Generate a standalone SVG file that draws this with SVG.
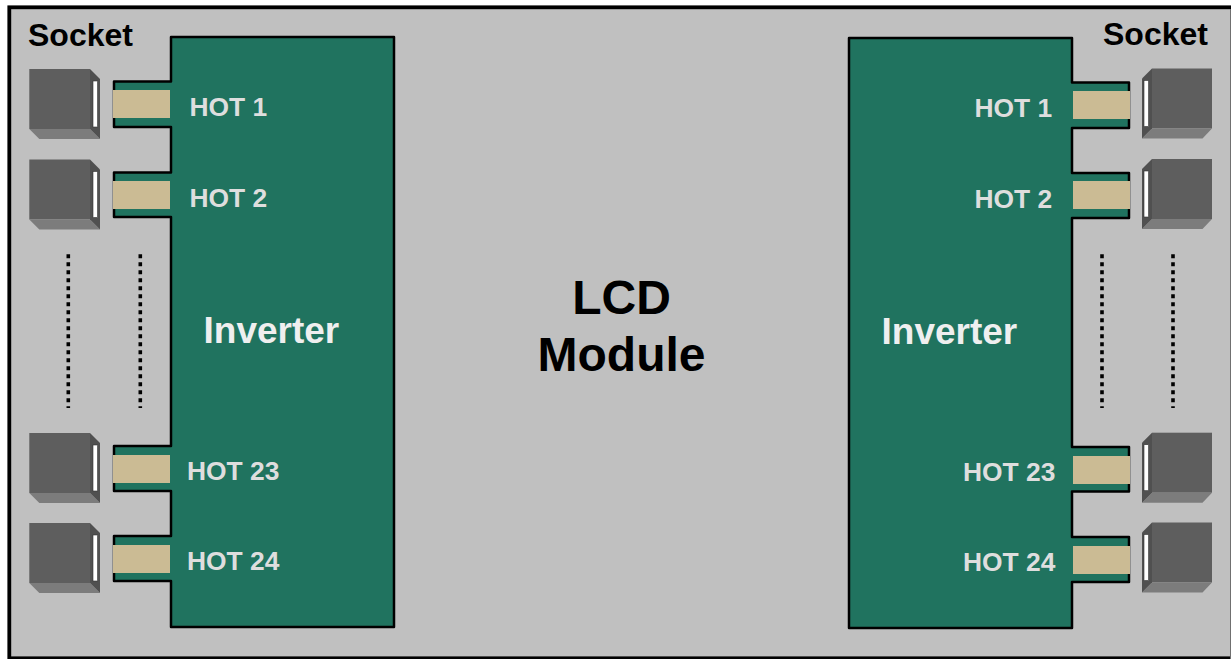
<svg xmlns="http://www.w3.org/2000/svg" width="1231" height="659" viewBox="0 0 1231 659">
<defs>
<style>
.inv{fill:#20735f;stroke:#000;stroke-width:2.5;stroke-linejoin:round}
.tan{fill:#cbbb94}
.front{fill:#5e5e5e}
.bot{fill:#7c7c7c}
.side{fill:#505050}
.slot{fill:#fff;stroke:#333;stroke-width:.6}
.dots{stroke:#000;stroke-width:3.600;stroke-dasharray:4 4;fill:none}
text{font-family:"Liberation Sans",Arial,sans-serif;font-weight:700}
.hot{font-size:26.400px;fill:#dedede}
.sock{font-size:32px;fill:#000}
.invt{font-size:37px;fill:#efefef}
.lcd{font-size:48px;fill:#000;text-anchor:middle}
</style>
<g id="sockL"><rect class="front" x="29.3" y="0" width="60.7" height="60"/><polygon class="bot" points="29.3,60 90,60 100,70 39.3,70"/><polygon class="side" points="90,0 100,10 100,70 90,60"/><rect class="slot" x="93" y="12" width="4.6" height="46"/></g>
<g id="sockR"><rect class="front" x="1152" y="0" width="60" height="60"/><polygon class="bot" points="1152,60 1212,60 1202.500,70 1142,70"/><polygon class="side" points="1152,0 1142,10 1142,70 1152,60"/><rect class="slot" x="1144" y="12" width="4.600" height="46"/></g>
</defs>
<rect width="1231" height="659" fill="#fff"/>
<rect id="board" x="9.300" y="7.300" width="1225" height="651" fill="#c0c0c0" stroke="#000" stroke-width="3.800"/>
<rect x="1230" y="9" width="1" height="650" fill="#707070"/>
<g id="inverter-left">
<path class="inv" d="M171 37H394V627H171V581H114V536H171V491H114V446H171V217H114V172.500H171V127H114V81.500H171Z"/>
<rect class="tan" x="113" y="90" width="57" height="28"/><rect class="tan" x="113" y="181" width="57" height="28"/><rect class="tan" x="113" y="455" width="57" height="28"/><rect class="tan" x="113" y="545" width="57" height="28"/>
<text class="invt" x="203.500" y="343">Inverter</text>
<text class="hot" x="189.500" y="116">HOT 1</text><text class="hot" x="189.500" y="207">HOT 2</text><text class="hot" x="187" y="480">HOT 23</text><text class="hot" x="187" y="570">HOT 24</text>
</g>
<g id="inverter-right">
<path class="inv" d="M849 38H1072V82.500H1129V128H1072V173H1129V218H1072V447H1129V491.500H1072V537H1129V582H1072V628H849Z"/>
<rect class="tan" x="1073" y="91" width="57" height="28"/><rect class="tan" x="1073" y="181" width="57" height="28"/><rect class="tan" x="1073" y="456" width="57" height="28"/><rect class="tan" x="1073" y="546" width="57" height="28"/>
<text class="invt" x="881.500" y="344">Inverter</text>
<text class="hot" x="974.500" y="117">HOT 1</text><text class="hot" x="974.500" y="208">HOT 2</text><text class="hot" x="963" y="481">HOT 23</text><text class="hot" x="963" y="571">HOT 24</text>
</g>
<g id="sockets-left"><use href="#sockL" y="69"/><use href="#sockL" y="159.500"/><use href="#sockL" y="433"/><use href="#sockL" y="523"/></g>
<g id="sockets-right"><use href="#sockR" y="68.500"/><use href="#sockR" y="159"/><use href="#sockR" y="432.700"/><use href="#sockR" y="522.500"/></g>
<g id="connectors"><path class="dots" d="M68.300 254.300V408M140.300 254.300V408M1102 254.300V408M1173 254.300V408"/></g>
<g id="labels">
<text class="sock" x="28" y="46">Socket</text><text class="sock" x="1103" y="45">Socket</text>
<text class="lcd" x="621.500" y="314">LCD</text><text class="lcd" x="621.500" y="371">Module</text>
</g>
</svg>
